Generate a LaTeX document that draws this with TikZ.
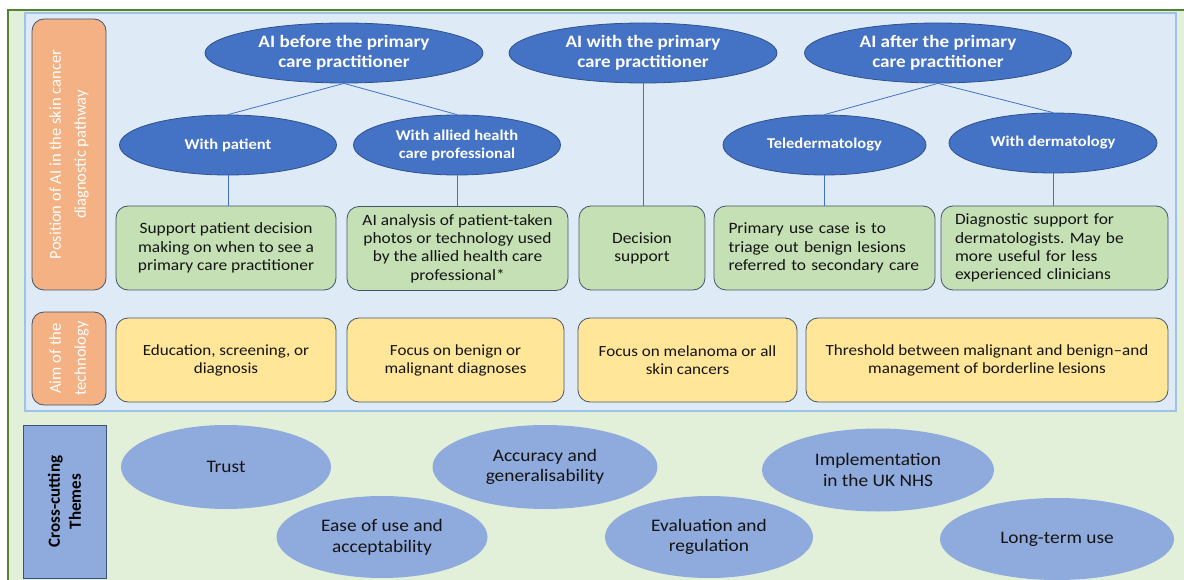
\documentclass[tikz,border=0pt]{standalone}
\usepackage{fontspec}
\setmainfont{Carlito}[FakeStretch=1.1]
\newfontfamily\rotfont{Carlito}
\usetikzlibrary{shapes.geometric}
\frenchspacing
\definecolor{outerbg}{HTML}{E2F0D9}
\definecolor{outerln}{HTML}{548235}
\definecolor{innerbg}{HTML}{DEEBF7}
\definecolor{innerln}{HTML}{9DC3E6}
\definecolor{orangef}{HTML}{F4B183}
\definecolor{boxln}{HTML}{44546A}
\definecolor{darkblue}{HTML}{4472C4}
\definecolor{darkblueln}{HTML}{2F528F}
\definecolor{greenf}{HTML}{C5E0B4}
\definecolor{yellowf}{HTML}{FFE699}
\definecolor{themef}{HTML}{8FAADC}
\definecolor{crossln}{HTML}{3B5376}
\definecolor{txt}{HTML}{141414}
\begin{document}
\begin{tikzpicture}[x=1pt,y=-1pt,
  topell/.style={ellipse, fill=darkblue, draw=darkblueln, line width=0.8pt, inner sep=0pt,
    text=white, align=center, minimum height=60, font=\bfseries\fontsize{17.4}{20}\selectfont},
  subell/.style={ellipse, fill=darkblue, draw=darkblueln, line width=0.8pt, inner sep=0pt,
    text=white, align=center, minimum height=60, font=\bfseries\fontsize{15}{18}\selectfont},
  greenbox/.style={rectangle, rounded corners=12pt, fill=greenf, draw=boxln, line width=0.8pt,
    inner sep=0pt, text=txt, minimum height=84, font=\fontsize{15.8}{18.3}\selectfont},
  yellowbox/.style={rectangle, rounded corners=12pt, fill=yellowf, draw=boxln, line width=0.8pt,
    inner sep=0pt, text=txt, align=center, minimum height=84, font=\fontsize{15.5}{18}\selectfont},
  themeell/.style={ellipse, fill=themef, inner sep=0pt, text=txt, align=center,
    font=\fontsize{17.6}{20.7}\selectfont},
  sidebox/.style={rectangle, rounded corners=12pt, fill=orangef, draw=boxln, line width=0.8pt,
    inner sep=0pt, rotate=90, text=white, align=center, font=\rotfont\fontsize{16.5}{25}\selectfont},
  link/.style={draw=darkblue, line width=0.8pt},
]
\useasboundingbox (0,0) rectangle (1184,580);
\fill[white] (0,0) rectangle (1184,580);
\fill[outerbg] (8,10) rectangle (1184,580);
\draw[outerln, line width=1.5pt] (8,580) -- (8,10) -- (1184,10);
\draw[innerln, fill=innerbg, line width=2pt] (25,13) rectangle (1176,411);

% side labels
\node[sidebox, minimum width=271, minimum height=74] (pos) at (69,154.5)
  {Position of AI in the skin cancer\\diagnostic pathway};
\node[sidebox, minimum width=93, minimum height=74] (aim) at (69,358.5)
  {Aim of the\\technology};
\node[rectangle, fill=themef, draw=crossln, line width=0.8pt, inner sep=0pt, rotate=90,
  minimum width=153, minimum height=83, align=center, text=black,
  font=\rotfont\bfseries\fontsize{17}{21}\selectfont] (cross) at (64.5,501.5)
  {Cross-cutting\\Themes};

% top ellipses
\node[topell, minimum width=278] (before) at (344,53) {AI before the primary\\care practitioner};
\node[topell, minimum width=268] (with) at (643,53) {AI with the primary\\care practitioner};
\node[topell, minimum width=267] (after) at (938,53) {AI after the primary\\care practitioner};

% second level
\node[subell, minimum width=217] (patient) at (228,145) {With patient};
\node[subell, minimum width=207] (allied) at (457,145) {With allied health\\care professional};
\node[subell, minimum width=203] (tele) at (824.5,145) {Teledermatology};
\node[subell, minimum width=208] (derm) at (1053,143) {With dermatology};

% green boxes
\node[greenbox, minimum width=220, align=center] (g1) at (226,248)
  {Support patient decision\\making on when to see a\\primary care practitioner};
\node[greenbox, minimum width=221, align=center] (g2) at (457.5,248.5)
  {AI analysis of patient-taken\\photos or technology used\\by the allied health care\\professional*};
\node[greenbox, minimum width=126, align=center] (g3) at (642,248)
  {Decision\\support};
\node[greenbox, minimum width=221, text width=192, align=left] (g4) at (824.5,248)
  {Primary use case is to\\triage out benign lesions\\referred to secondary care};
\node[greenbox, minimum width=227, text width=199, align=left] (g5) at (1054.5,248)
  {Diagnostic support for\\dermatologists. May be\\more useful for less\\experienced clinicians};

% yellow boxes
\node[yellowbox, minimum width=220] (y1) at (226,360) {Education, screening, or\\diagnosis};
\node[yellowbox, minimum width=217] (y2) at (455.5,360) {Focus on benign or\\malignant diagnoses};
\node[yellowbox, minimum width=219] (y3) at (687.5,360) {Focus on melanoma or all\\skin cancers};
\node[yellowbox, minimum width=362] (y4) at (987,360) {Threshold between malignant and benign--and\\management of borderline lesions};

% connectors
\draw[link] (before.south) -- (patient.north);
\draw[link] (before.south) -- (allied.north);
\draw[link] (after.south) -- (tele.north);
\draw[link] (after.south) -- (derm.north);
\draw[link] (with.south) -- (with.south |- g3.north);
\draw[link] (patient.south) -- (patient.south |- g1.north);
\draw[link] (allied.south) -- (allied.south |- g2.north);
\draw[link] (tele.south) -- (tele.south |- g4.north);
\draw[link] (derm.south) -- (derm.south |- g5.north);

% themes
\node[themeell, minimum width=210, minimum height=84] (trust) at (226,467) {Trust};
\node[themeell, minimum width=211, minimum height=82] (ease) at (382,537) {Ease of use and\\acceptability};
\node[themeell, minimum width=225, minimum height=84] (acc) at (545,467) {Accuracy and\\generalisability};
\node[themeell, minimum width=208, minimum height=82] (eval) at (709,537) {Evaluation and\\regulation};
\node[themeell, minimum width=232, minimum height=83] (impl) at (878,470) {Implementation\\in the UK NHS};
\node[themeell, minimum width=234, minimum height=82] (long) at (1057,539) {Long-term use};
\end{tikzpicture}
\end{document}
